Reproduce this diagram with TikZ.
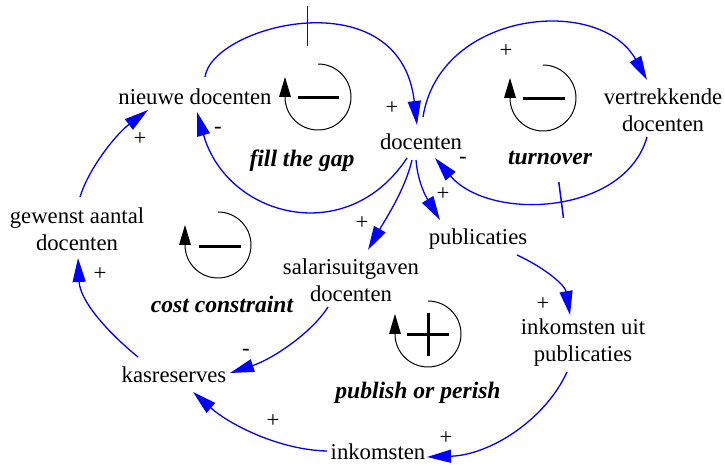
\documentclass[tikz,border=0pt]{standalone}
\usepackage{fontspec}
\setmainfont{Liberation Serif}
\usetikzlibrary{arrows.meta,calc}

\tikzset{
  var/.style={font=\fontsize{11.35}{13.5}\selectfont, align=center, inner sep=1.5pt},
  sign/.style={font=\fontsize{11.35}{13.5}\selectfont, inner sep=0pt},
  looplabel/.style={font=\fontsize{11.8}{14}\selectfont\bfseries\itshape, inner sep=1pt},
  link/.style={blue, line width=0.65pt, -{Triangle[length=12pt,width=6.5pt]}},
  delay/.style={sloped, inner sep=0pt, text=blue},
  loopcirc/.style={black, line width=0.5pt},
  loopsign/.style={black, line width=1.5pt},
}

\begin{document}
\begin{tikzpicture}[x=0.5pt, y=0.5pt]
    \useasboundingbox (0,0) rectangle (725,-465);

    % Define nodes
    \node[var] (nd)  at (195,-97)  {nieuwe docenten};
    \node[var] (doc) at (421,-142) {docenten};
    \node[var] (vd)  at (663,-110) {vertrekkende\\docenten};
    \node[var] (pub) at (478,-239) {publicaties};
    \node[var] (sal) at (351,-280) {salarisuitgaven\\docenten};
    \node[var] (iup) at (583,-343) {inkomsten uit\\publicaties};
    \node[var] (ink) at (378,-452) {inkomsten};
    \node[var] (kas) at (174,-375) {kasreserves};
    \node[var] (gad) at (77,-229)  {gewenst aantal\\docenten};

    % Draw links
    \draw[link] ($(nd)+(10,20)$) .. controls (212,-25) and (400,23) .. ($(doc)+(-4,17)$)
      node[delay, pos=0.5] {\rule{0.75pt}{20pt}};
    \draw[link] ($(doc)+(-14,-16)$) .. controls (347,-249) and (227,-217) .. ($(nd)+(2,-15)$);
    \draw[link] ($(doc)+(2,25)$) .. controls (440,-10) and (600,5) .. ($(vd)+(-16,30)$);
    \draw[link] ($(vd)+(-16,-27)$) .. controls (625,-215) and (490,-222) .. ($(doc)+(14,-16)$)
      node[delay, pos=0.47] {\rule{0.75pt}{18pt}};
    \draw[link] ($(doc)+(-5,-18)$) .. controls (418,-185) and (428,-200) .. ($(pub)+(-38,19)$);
    \draw[link] ($(doc)+(-9,-18)$) .. controls (405,-190) and (385,-220) .. ($(sal)+(17,30)$);
    \draw[link] ($(pub)+(39,-16)$) .. controls (545,-268) and (565,-285) .. ($(iup)+(-13,28)$);
    \draw[link] ($(iup)+(-16,-29)$) .. controls (545,-420) and (490,-455) .. ($(ink)+(49,-5)$);
    \draw[link] ($(ink)+(-51,1)$) .. controls (280,-450) and (230,-425) .. ($(kas)+(19,-17)$);
    \draw[link] ($(sal)+(-23,-27)$) .. controls (310,-335) and (270,-360) .. ($(kas)+(56,2)$);
    \draw[link] ($(kas)+(-36,18)$) .. controls (105,-330) and (80,-300) .. ($(gad)+(1,-29)$);
    \draw[link] ($(gad)+(3,32)$) .. controls (88,-170) and (115,-135) .. ($(nd)+(-47,-13)$);

    % Polarities
    \node[sign] (s1)  at (392,-108) {+};
    \node[sign] (s2)  at (218,-130) {-};
    \node[sign] (s3)  at (506,-51)  {+};
    \node[sign] (s4)  at (463,-160) {-};
    \node[sign] (s5)  at (443,-194) {+};
    \node[sign] (s6)  at (362,-223) {+};
    \node[sign] (s7)  at (543,-304) {+};
    \node[sign] (s8)  at (446,-438) {+};
    \node[sign] (s9)  at (273,-421) {+};
    \node[sign] (s10) at (246,-352) {-};
    \node[sign] (s11) at (100,-274) {+};
    \node[sign] (s12) at (140,-139) {+};

    % Loop symbols
    \coordinate (lfill) at (318,-97);
    \coordinate (lturn) at (543,-98);
    \coordinate (lcost) at (218,-245);
    \coordinate (lpub)  at (428,-334);
    \foreach \c in {lfill,lturn,lcost,lpub}{
      \draw[loopcirc] ($(\c)+(0,33)$) arc (90:-180:33);
      \fill ($(\c)+(-39,0)$) -- ($(\c)+(-27,0)$) -- ($(\c)+(-33,20)$) -- cycle;
    }
    \draw[loopsign] ($(lfill)+(-20,-1)$) -- ($(lfill)+(21,-1)$);
    \draw[loopsign] ($(lturn)+(-20,-1)$) -- ($(lturn)+(22,-1)$);
    \draw[loopsign] ($(lcost)+(-19,-2)$) -- ($(lcost)+(23,-2)$);
    \draw[loopsign] ($(lpub)+(-21,-1)$) -- ($(lpub)+(21,-1)$);
    \draw[loopsign] ($(lpub)+(0,21)$) -- ($(lpub)+(0,-22)$);

    % Loop names
    \node[looplabel] (tfill) at (302,-161) {fill the gap};
    \node[looplabel] (tturn) at (550,-158) {turnover};
    \node[looplabel] (tcost) at (222,-304) {cost constraint};
    \node[looplabel] (tpub)  at (418,-393) {publish or perish};

  \end{tikzpicture}
\end{document}
